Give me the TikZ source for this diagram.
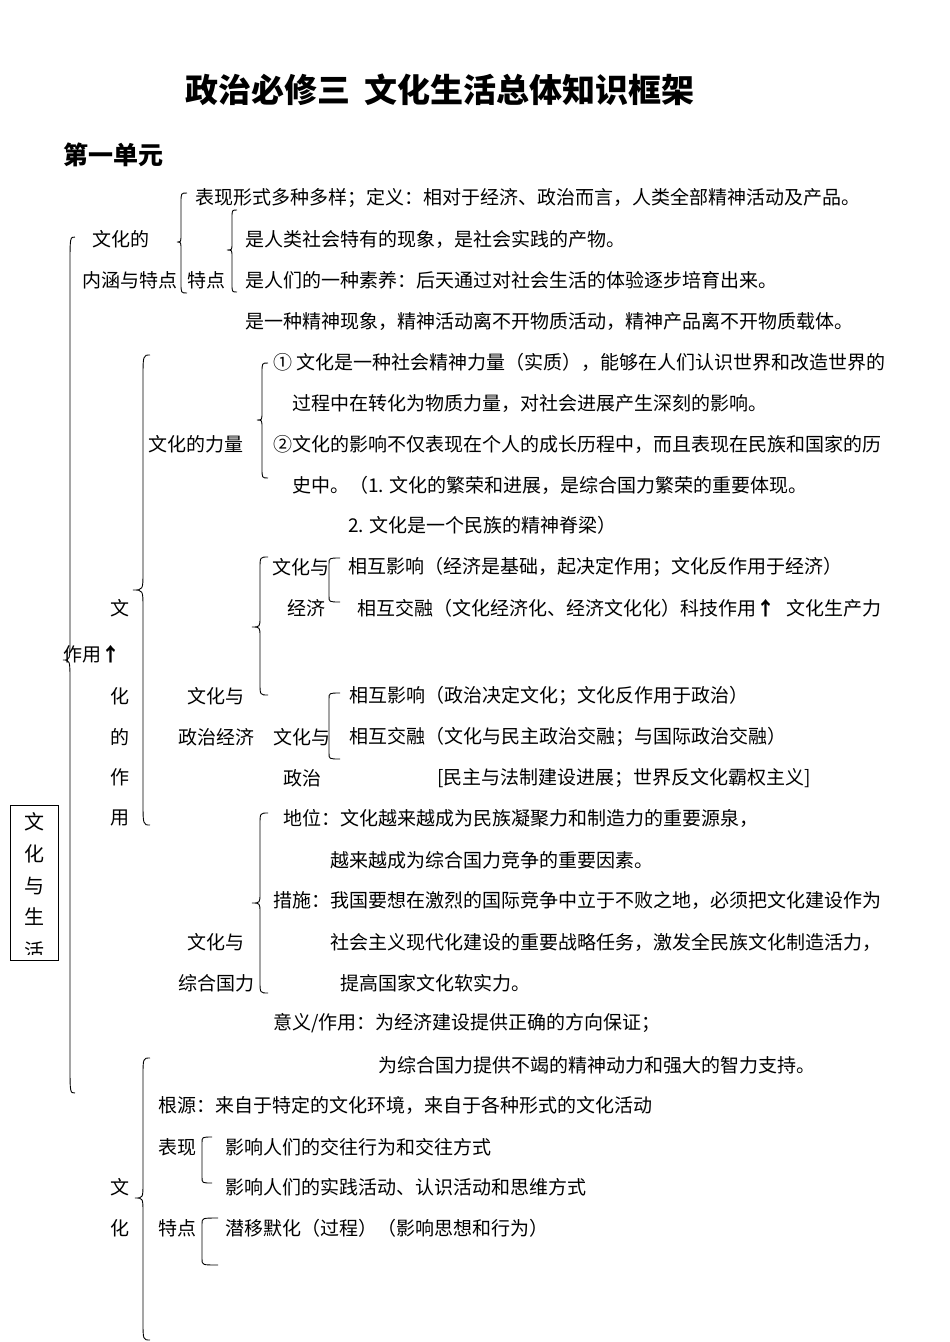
\documentclass[tikz,border=0pt]{standalone}
\usepackage{fontspec}
\setmainfont{Noto Sans CJK SC}[Kerning=Off]
\newcommand{\mybrace}[8]{% #1 xend, #2 xline, #3 ytop, #4 ypoint, #5 ybottom, #6 xpoint, #7 rend, #8 rmid
  \draw[brc] (#1,#3) .. controls (#2,#3) .. (#2,#3+#7) -- (#2,#4-#8) .. controls (#2,#4) .. (#6,#4)
    .. controls (#2,#4) .. (#2,#4+#8) -- (#2,#5-#7) .. controls (#2,#5) .. (#1,#5);}
\newcommand{\mybracket}[5]{% #1 xend, #2 xline, #3 ytop, #4 ybottom, #5 r
  \draw[brc] (#1,#3) .. controls (#2,#3) .. (#2,#3+#5) -- (#2,#4-#5) .. controls (#2,#4) .. (#1,#4);}
\newcommand{\uparr}{{\bfseries ↑}}
\begin{document}
\begin{tikzpicture}[x=1pt,y=-1pt,
  txt/.style={anchor=west,inner sep=0pt,font=\fontsize{19pt}{22pt}\selectfont},
  ctr/.style={anchor=center,inner sep=0pt,font=\fontsize{19pt}{22pt}\selectfont},
  boxl/.style={anchor=center,inner sep=0pt,font=\fontsize{20pt}{22pt}\selectfont},
  brc/.style={line width=0.9pt}]
\useasboundingbox[fill=white] (0,0) rectangle (950,1342);

% title
\node[inner sep=0pt,font=\fontsize{33pt}{36pt}\selectfont\bfseries] (title) at (440,90) {政治必修三\hspace{0.4em}文化生活总体知识框架};
\node[anchor=west,inner sep=0pt,font=\fontsize{25pt}{28pt}\selectfont\bfseries] (unit) at (63,155) {第一单元};

% left box
\node[draw,line width=0.9pt,minimum width=48,minimum height=155,inner sep=0pt] (box) at (34,882.5) {};
\begin{scope}
  \clip (10,805) rectangle (58,954);
  \node[boxl] (b-1) at (34,822) {文};
  \node[boxl] (b-2) at (34,854) {化};
  \node[boxl] (b-3) at (34,886) {与};
  \node[boxl] (b-4) at (34,917) {生};
  \node[boxl] (b-5) at (34,951) {活};
\end{scope}

% braces
\mybrace{75}{70}{237}{660}{1093}{63}{30}{22}
\mybrace{187}{181}{193}{242}{293}{177}{10}{8}
\mybrace{237}{232}{210}{250}{292}{227}{8}{7}
\mybrace{150}{143}{355}{590}{825}{133}{25}{18}
\mybrace{268}{262}{363}{420}{478}{257}{10}{8}
\mybrace{268}{260}{557}{627}{695}{252}{12}{10}
\mybracket{340}{329}{558}{602}{6}
\mybracket{340}{329}{693}{759}{6}
\mybrace{268}{260}{813}{903}{993}{252}{12}{10}
\mybrace{150}{143}{1058}{1198}{1340}{135}{20}{15}
\mybracket{212}{202}{1137}{1183}{6}
\mybracket{218}{202}{1218}{1265}{6}

% section 1
\node[txt] (a1) at (195,198) {表现形式多种多样；定义：相对于经济、政治而言，人类全部精神活动及产品。};
\node[txt] (k1) at (92,239) {文化的};
\node[txt] (a2) at (245,239) {是人类社会特有的现象，是社会实践的产物。};
\node[txt] (k2) at (82,280) {内涵与特点};
\node[txt] (k3) at (187,280) {特点};
\node[txt] (a3) at (245,280) {是人们的一种素养：后天通过对社会生活的体验逐步培育出来。};
\node[txt] (a4) at (245,321) {是一种精神现象，精神活动离不开物质活动，精神产品离不开物质载体。};

% power of culture
\node[txt] (b1) at (273,362) {① 文化是一种社会精神力量（实质），能够在人们认识世界和改造世界的};
\node[txt] (b2) at (292,403) {过程中在转化为物质力量，对社会进展产生深刻的影响。};
\node[txt] (k4) at (148,444) {文化的力量};
\node[txt] (b3) at (273,444) {②文化的影响不仅表现在个人的成长历程中，而且表现在民族和国家的历};
\node[txt] (b4) at (292,485) {史中。（1. 文化的繁荣和进展，是综合国力繁荣的重要体现。};
\node[txt] (b5) at (348,525) {2. 文化是一个民族的精神脊梁）};

% culture and politics/economy
\node[txt] (k5) at (272,567) {文化与};
\node[txt] (c1) at (348,567) {相互影响（经济是基础，起决定作用；文化反作用于经济）};
\node[txt] (k6) at (287,608) {经济};
\node[txt] (c2) at (357,608) {相互交融（文化经济化、经济文化化）科技作用\uparr\hspace{0.6em}文化生产力};
\node[txt] (k7) at (63,654) {作用\uparr};
\node[txt] (k8) at (187,696) {文化与};
\node[txt] (c3) at (349,696) {相互影响（政治决定文化；文化反作用于政治）};
\node[txt] (k9) at (178,737) {政治经济};
\node[txt] (k10) at (273,737) {文化与};
\node[txt] (c4) at (349,737) {相互交融（文化与民主政治交融；与国际政治交融）};
\node[txt] (k11) at (283,778) {政治};
\node[txt] (c5) at (437,778) {[民主与法制建设进展；世界反文化霸权主义]};

\node[ctr] (v1) at (120,608) {文};
\node[ctr] (v2) at (120,696) {化};
\node[ctr] (v3) at (120,737) {的};
\node[ctr] (v4) at (120,777) {作};
\node[ctr] (v5) at (120,818) {用};

% culture and national strength
\node[txt] (d1) at (283,818) {地位：文化越来越成为民族凝聚力和制造力的重要源泉，};
\node[txt] (d2) at (330,860) {越来越成为综合国力竞争的重要因素。};
\node[txt] (d3) at (273,900) {措施：我国要想在激烈的国际竞争中立于不败之地，必须把文化建设作为};
\node[txt] (k12) at (187,942) {文化与};
\node[txt] (d4) at (330,942) {社会主义现代化建设的重要战略任务，激发全民族文化制造活力，};
\node[txt] (k13) at (178,983) {综合国力};
\node[txt] (d5) at (340,983) {提高国家文化软实力。};
\node[txt] (d6) at (273,1023) {意义/作用：为经济建设提供正确的方向保证；};
\node[txt] (d7) at (378,1065) {为综合国力提供不竭的精神动力和强大的智力支持。};

% culture's influence
\node[txt] (e1) at (158,1105) {根源：来自于特定的文化环境，来自于各种形式的文化活动};
\node[txt] (k14) at (158,1147) {表现};
\node[txt] (e2) at (225,1147) {影响人们的交往行为和交往方式};
\node[ctr] (v6) at (120,1187) {文};
\node[txt] (e3) at (225,1187) {影响人们的实践活动、认识活动和思维方式};
\node[ctr] (v7) at (120,1228) {化};
\node[txt] (k15) at (158,1228) {特点};
\node[txt] (e4) at (225,1228) {潜移默化（过程）（影响思想和行为）};
\end{tikzpicture}
\end{document}
